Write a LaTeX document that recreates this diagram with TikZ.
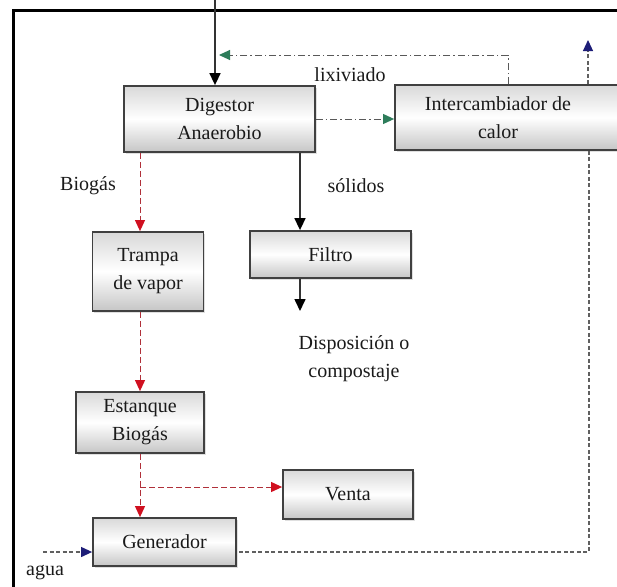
\documentclass[tikz,border=0pt]{standalone}
\usepackage{fontspec}
\setmainfont{Liberation Serif}
\usetikzlibrary{arrows.meta,shadows}
\definecolor{boxline}{HTML}{404040}
\definecolor{redline}{HTML}{B0303A}
\definecolor{redtip}{HTML}{D01020}
\definecolor{greentip}{HTML}{2E7D5B}
\definecolor{bluetip}{HTML}{1E1E78}
\definecolor{txt}{HTML}{1A1A1A}
\tikzset{
  box/.style={draw=boxline, line width=1.8pt, inner sep=0pt, align=center,
    top color=gray!30, bottom color=gray!45, middle color=white,
    drop shadow={opacity=0.25, shadow xshift=1.5pt, shadow yshift=-1.5pt},
    font=\fontsize{20}{28}\selectfont, text=txt},
  lbl/.style={font=\fontsize{20}{28}\selectfont, text=txt, align=center, inner sep=0pt},
  redflow/.style={draw=redline, line width=1pt, dash pattern=on 6pt off 3pt,
    -{Triangle[length=11pt,width=10pt,color=redtip]}},
  greenflow/.style={draw=gray!70!black, line width=1pt, dash pattern=on 7pt off 3pt on 1.5pt off 3pt,
    -{Triangle[length=11pt,width=10pt,color=greentip]}},
  greenplain/.style={draw=gray!70!black, line width=1pt, dash pattern=on 7pt off 3pt on 1.5pt off 3pt},
  blueflow/.style={draw=gray!75!black, line width=1.1pt, dash pattern=on 4pt off 2.5pt,
    -{Triangle[length=11pt,width=10pt,color=bluetip]}},
  blueplain/.style={draw=gray!75!black, line width=1.1pt, dash pattern=on 4pt off 2.5pt},
  solidflow/.style={draw=black!80, line width=1.6pt, -{Triangle[length=12pt,width=11pt,color=black]}}
}
\begin{document}
\begin{tikzpicture}[x=1pt,y=-1pt]
\clip (0,0) rectangle (617,586);
\useasboundingbox (0,0) rectangle (617,586);
% frame
\draw[line width=3pt, line cap=rect] (617,11) -- (13,11) -- (13,586);

% boxes
\node[box, minimum width=191pt, minimum height=66pt] (dig) at (219.5,119) {Digestor\\Anaerobio};
\node[box, minimum width=233pt, minimum height=65pt] (ic) at (511.5,117.5) {};
\node[lbl] (ictext) at (498,117.5) {Intercambiador de\\calor};
\node[box, minimum width=111pt, minimum height=79pt] (trampa) at (148,271.5) {Trampa\\de vapor};
\node[box, minimum width=161pt, minimum height=47pt] (filtro) at (330.5,254.5) {Filtro};
\node[box, minimum width=128pt, minimum height=61pt] (est) at (140,422.5) {Estanque\\Biogás};
\node[box, minimum width=130pt, minimum height=49pt] (venta) at (348,494.5) {Venta};
\node[box, minimum width=143pt, minimum height=48pt] (gen) at (164.5,542) {Generador};

% labels
\node[lbl] (lix) at (350,75) {lixiviado};
\node[lbl] (biog) at (88,186) {Biogás};
\node[lbl] (sol) at (356,186) {sólidos};
\node[lbl] (disp) at (354,359) {Disposición o\\compostaje};
\node[lbl] (agua) at (45,573) {agua};

% coordinates
\coordinate (top) at (215,0);
\coordinate (lx) at (508,55);
\coordinate (bx) at (588,40);
\coordinate (wx) at (589,552);
\coordinate (ain) at (43,552);
\coordinate (gx) at (140,0);
\coordinate (sx) at (300,0);
\coordinate (br) at (140,487);
\coordinate (dout) at (300,311);

% solid feed
\draw[solidflow] (top) -- (top |- dig.north);
% digestor -> intercambiador
\draw[greenflow] (dig.east |- 0,119) -- (ic.west |- 0,119);
% lixiviado return
\draw[greenplain] (ic.north -| lx) -- (lx);
\draw[greenflow, shorten >=4pt] (lx) -- (top |- lx);
% water out
\draw[blueflow] (ic.north -| bx) -- (bx);
% water loop
\draw[blueplain] (ic.south -| wx) -- (wx) -- (gen.east |- wx);
\draw[blueflow] (ain) -- (gen.west |- ain);
% biogas line
\draw[redflow] (dig.south -| gx) -- (trampa.north -| gx);
\draw[redflow] (trampa.south -| gx) -- (est.north -| gx);
\draw[redflow] (est.south -| gx) -- (gen.north -| gx);
\draw[redflow] (br) -- (venta.west |- br);
% solids
\draw[solidflow] (dig.south -| sx) -- (filtro.north -| sx);
\draw[solidflow] (filtro.south -| sx) -- (dout);
\end{tikzpicture}
\end{document}
